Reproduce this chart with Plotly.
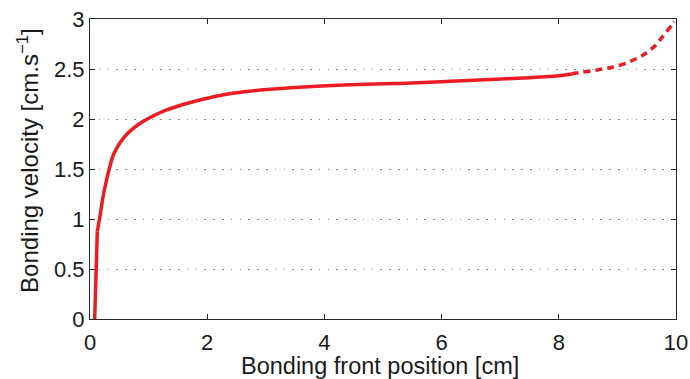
import plotly.graph_objects as go

# Bonding front position [cm] and bonding velocity [cm/s]
# initial jump of the front
pos_start = [0.08, 0.108, 0.125]
vel_start = [0.0, 0.495, 0.878]

# measured part
pos_measured = [0.125, 0.165, 0.222, 0.268, 0.315, 0.398, 0.512, 0.654, 0.825,
                0.98, 1.22, 1.56, 1.91, 2.30, 2.60, 3.02, 3.58, 4.15,
                4.72, 5.29, 5.69, 6.26, 6.83, 7.39, 7.96, 8.22]
vel_measured = [0.878, 1.01, 1.22, 1.35, 1.47, 1.64, 1.762, 1.862, 1.945,
                2.0, 2.07, 2.14, 2.195, 2.245, 2.27, 2.295, 2.318, 2.335,
                2.347, 2.356, 2.366, 2.38, 2.396, 2.41, 2.43, 2.45]

# extrapolated part near the end of the sample
pos_extrap = [8.22, 8.30, 8.65, 8.93, 9.16, 9.44, 9.64, 9.78, 9.93, 9.97]
vel_extrap = [2.45, 2.46, 2.49, 2.52, 2.56, 2.64, 2.73, 2.83, 2.94, 2.975]

x_ticks = [0, 2, 4, 6, 8, 10]
y_ticks = [0, 0.5, 1, 1.5, 2, 2.5, 3]

RED = "#ED1C24"
AXIS = "#262626"
TEXT = "#1a1a1a"
FONT = "Liberation Sans, Arial, sans-serif"

fig = go.Figure()
fig.add_trace(go.Scatter(x=pos_start, y=vel_start, mode="lines",
                         line=dict(color=RED, width=3.5), showlegend=False))
fig.add_trace(go.Scatter(x=pos_measured, y=vel_measured, mode="lines",
                         line=dict(color=RED, width=3.5, shape="spline", smoothing=0.8),
                         showlegend=False))
fig.add_trace(go.Scatter(x=pos_extrap, y=vel_extrap, mode="lines",
                         line=dict(color=RED, width=3.5, dash="7px,5px",
                                   shape="spline", smoothing=0.6),
                         showlegend=False))

fig.update_layout(
    width=690, height=379,
    margin=dict(l=90, r=14, t=19, b=60),
    paper_bgcolor="white", plot_bgcolor="white",
    font=dict(family=FONT, color=TEXT),
)
fig.update_xaxes(
    range=[0, 10], tickvals=x_ticks, ticktext=[str(v) for v in x_ticks],
    showgrid=False, zeroline=False, automargin=False,
    showline=True, linecolor=AXIS, linewidth=1.2, mirror="ticks",
    ticks="inside", ticklen=5, tickcolor=AXIS, tickwidth=1,
    ticklabelstandoff=3,
    tickfont=dict(size=22, family=FONT, color=TEXT),
)
fig.update_yaxes(
    range=[0, 3], tickvals=y_ticks, ticktext=[f"{v:g}" for v in y_ticks],
    showgrid=True, gridcolor="#8c8c8c", gridwidth=1, griddash="1.5px,7.3px",
    zeroline=False, automargin=False,
    showline=True, linecolor=AXIS, linewidth=1.2, mirror="ticks",
    ticks="inside", ticklen=5, tickcolor=AXIS, tickwidth=1,
    tickfont=dict(size=22, family=FONT, color=TEXT),
)

# axis titles
fig.add_annotation(text="Bonding front position [cm]", xref="paper", yref="paper",
                   x=0.495, y=-0.155, xanchor="center", yanchor="middle",
                   showarrow=False, font=dict(size=23.5, family=FONT, color=TEXT))
fig.add_annotation(text="Bonding velocity [cm.s<sup>−1</sup>]", xref="paper", yref="paper",
                   x=-0.106, y=0.53, xanchor="center", yanchor="middle", textangle=-90,
                   showarrow=False, font=dict(size=24, family=FONT, color=TEXT))

fig.write_html("out.html")
